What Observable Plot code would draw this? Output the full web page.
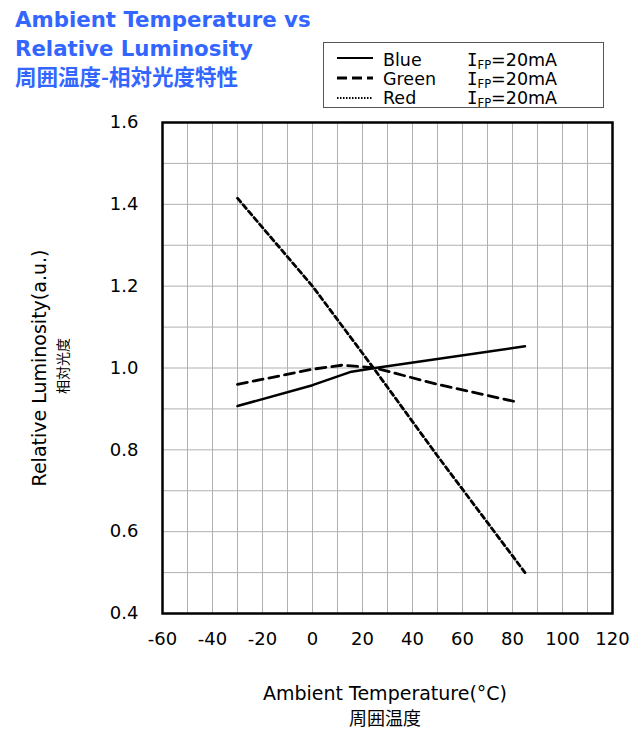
<!DOCTYPE html>
<html><head><meta charset="utf-8">
<script src="https://cdn.jsdelivr.net/npm/d3@7"></script>
<script src="https://cdn.jsdelivr.net/npm/@observablehq/plot@0.6"></script>
<style>
html,body{margin:0;padding:0;background:#fff;overflow:hidden;}
#wrap{position:relative;width:636px;height:731px;}
#wrap svg{position:absolute;left:0;top:0;}
</style>
</head><body><div id="wrap"></div>
<script>
// ---- data ----
const blueT = [-30, 0, 15, 25, 85];
const blueV = [0.907, 0.958, 0.99, 1.0, 1.053];
const greenT = [-30, 0, 12, 25, 50, 81];
const greenV = [0.96, 0.997, 1.007, 1.0, 0.96, 0.918];
const redT = [-30, 0, 25, 50, 85];
const redV = [1.415, 1.2, 0.995, 0.785, 0.5];
const xTicks = [-60, -40, -20, 0, 20, 40, 60, 80, 100, 120];
const yTicks = [0.4, 0.6, 0.8, 1.0, 1.2, 1.4, 1.6];
const xGrid = [-60,-50,-40,-30,-20,-10,0,10,20,30,40,50,60,70,80,90,100,110,120];
const yGrid = [0.4,0.5,0.6,0.7,0.8,0.9,1.0,1.1,1.2,1.3,1.4,1.5,1.6];
const seriesNames = ["Blue", "Green", "Red"];
const current = "20mA";

const toRows = (T, V) => T.map((t, i) => ({t, v: V[i]}));
const blue = toRows(blueT, blueV), green = toRows(greenT, greenV), red = toRows(redT, redV);

const chart = Plot.plot({
  width: 636, height: 731,
  marginLeft: 162, marginRight: 24, marginTop: 122, marginBottom: 118,
  style: {fontFamily: "'DejaVu Sans', Verdana, sans-serif", fontSize: "18px", color: "#000", background: "transparent"},
  x: {domain: [-60, 120]},
  y: {domain: [0.4, 1.6]},
  marks: [
    Plot.ruleX(xGrid, {stroke: "#b0b0b0", strokeWidth: 1}),
    Plot.ruleY(yGrid, {stroke: "#b0b0b0", strokeWidth: 1}),
    Plot.line(blue, {x: "t", y: "v", stroke: "#000", strokeWidth: 2.5}),
    Plot.line(green, {x: "t", y: "v", stroke: "#000", strokeWidth: 2.8, strokeDasharray: "10,6"}),
    Plot.line(red, {x: "t", y: "v", stroke: "#000", strokeWidth: 2.8, strokeDasharray: "5,3.5"}),
    Plot.frame({stroke: "#000", strokeWidth: 2.5}),
    Plot.axisX({ticks: xTicks, tickSize: 0, tickPadding: 19, tickFormat: d => String(d), label: null, fontSize: 18, letterSpacing: 1}),
    Plot.axisY({ticks: yTicks, tickSize: 0, tickPadding: 24, tickFormat: d => d.toFixed(1), label: null, fontSize: 18})
  ]
});
document.getElementById("wrap").appendChild(chart);

// ---- overlay text: title, legend, axis labels ----
const W = 636, H = 731;
const ov = d3.select("#wrap").append("svg").attr("width", W).attr("height", H)
  .style("pointer-events", "none");
const blueC = "#3366ff";
const tf = "'DejaVu Sans', Verdana, sans-serif";
const cjk = "'Noto Sans CJK JP', sans-serif";
ov.append("text").attr("x", 15).attr("y", 27).attr("font-family", tf).attr("font-weight", "bold")
  .attr("font-size", 21.3).attr("fill", blueC).text("Ambient Temperature vs");
ov.append("text").attr("x", 15).attr("y", 56).attr("font-family", tf).attr("font-weight", "bold")
  .attr("font-size", 21.3).attr("fill", blueC).text("Relative Luminosity");
ov.append("text").attr("x", 15).attr("y", 85).attr("font-family", cjk).attr("font-weight", "bold")
  .attr("font-size", 21.5).attr("fill", blueC).text("周囲温度-相対光度特性");

// legend
ov.append("rect").attr("x", 323.5).attr("y", 42.5).attr("width", 280).attr("height", 65)
  .attr("fill", "none").attr("stroke", "#555").attr("stroke-width", 1);
const rows = [
  {name: seriesNames[0], ly: 58, by: 66, dash: null, w: 2.2},
  {name: seriesNames[1], ly: 78, by: 85, dash: "10,5", w: 2.8},
  {name: seriesNames[2], ly: 98, by: 104, dash: "1.5,1.5", w: 1.8}
];
rows.forEach(r => {
  const l = ov.append("line").attr("x1", 337).attr("x2", 373).attr("y1", r.ly).attr("y2", r.ly)
    .attr("stroke", "#000").attr("stroke-width", r.w);
  if (r.dash) l.attr("stroke-dasharray", r.dash);
  ov.append("text").attr("x", 383).attr("y", r.by).attr("font-family", tf).attr("font-size", 17.5).text(r.name);
  const t = ov.append("text").attr("x", 467).attr("y", r.by).attr("font-family", tf).attr("font-size", 17.5);
  t.append("tspan").attr("font-family", "'DejaVu Sans Mono', monospace").text("I");
  t.append("tspan").attr("font-size", 11.5).attr("dy", 3).text("FP");
  t.append("tspan").attr("dy", -3).text("=" + current);
});

// axis labels
ov.append("text").attr("x", 385).attr("y", 700).attr("text-anchor", "middle").attr("font-family", tf)
  .attr("font-size", 19).text("Ambient Temperature(°C)");
ov.append("text").attr("x", 385).attr("y", 725).attr("text-anchor", "middle").attr("font-family", cjk)
  .attr("font-size", 18).text("周囲温度");
ov.append("text").attr("transform", "translate(46,368) rotate(-90)").attr("text-anchor", "middle")
  .attr("font-family", tf).attr("font-size", 19).text("Relative Luminosity(a.u.)");
ov.append("text").attr("transform", "translate(68,366) rotate(-90)").attr("text-anchor", "middle")
  .attr("font-family", cjk).attr("font-size", 14).text("相対光度");
</script>
</body></html>
